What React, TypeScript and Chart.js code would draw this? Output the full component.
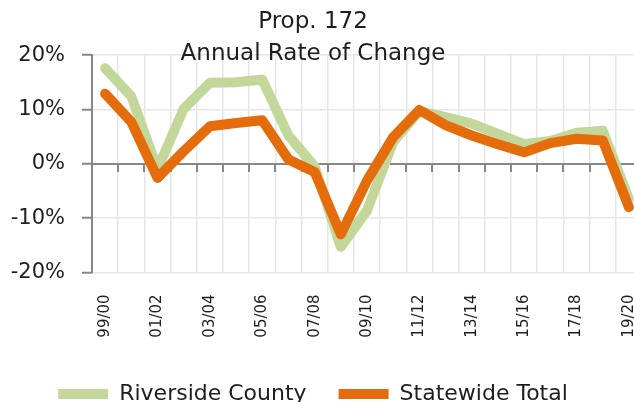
import React, { useEffect, useRef } from 'react';
import { Chart, registerables } from 'chart.js';

Chart.register(...registerables);

const categories = [
  '99/00', '00/01', '01/02', '02/03', '03/04', '04/05', '05/06', '06/07', '07/08', '08/09',
  '09/10', '10/11', '11/12', '12/13', '13/14', '14/15', '15/16', '16/17', '17/18', '18/19', '19/20',
];
const riversideCounty = [
  17.6, 12.4, -1.0, 10.1, 14.9, 15.0, 15.5, 5.2, -0.5, -15.3,
  -8.6, 4.0, 9.7, 8.6, 7.4, 5.5, 3.6, 4.2, 5.7, 6.1, -6.5,
];
const statewideTotal = [
  12.9, 7.7, -2.6, 2.3, 6.9, 7.5, 8.0, 0.8, -1.5, -13.0,
  -3.1, 4.9, 9.9, 7.1, 5.2, 3.6, 2.1, 3.8, 4.6, 4.3, -8.0,
];
const titleLines = ['Prop. 172', 'Annual Rate of Change'];
const seriesNames = ['Riverside County', 'Statewide Total'];
const yMin = -20;
const yMax = 20;
const yStep = 10;

const FONT = 'DejaVu Sans';
const TEXT = '#1e1e1e';
const GREEN = '#C4D79B';
const ORANGE = '#E46C0A';
const AXIS = '#878787';
const GRID = '#e6e6e6';

const zeroPad = (s: any) => {
  s.paddingLeft = 0;
  s.paddingRight = 0;
};

export default function App() {
  const ref = useRef<HTMLCanvasElement>(null);

  useEffect(() => {
    const chart = new Chart(ref.current as HTMLCanvasElement, {
      type: 'line',
      data: {
        labels: categories,
        datasets: [
          {
            label: seriesNames[0],
            data: riversideCounty,
            borderColor: GREEN,
            backgroundColor: GREEN,
            borderWidth: 10,
            borderCapStyle: 'round',
            borderJoinStyle: 'round',
            pointRadius: 0,
            fill: false,
            tension: 0,
            order: 2,
          },
          {
            label: seriesNames[1],
            data: statewideTotal,
            borderColor: ORANGE,
            backgroundColor: ORANGE,
            borderWidth: 10,
            borderCapStyle: 'round',
            borderJoinStyle: 'round',
            pointRadius: 0,
            fill: false,
            tension: 0,
            order: 1,
          },
        ],
      },
      options: {
        responsive: false,
        animation: false,
        devicePixelRatio: 1,
        layout: { padding: { left: 0, right: 2, top: 0, bottom: 0 } },
        plugins: {
          tooltip: { enabled: false },
          title: {
            display: true,
            text: titleLines,
            color: TEXT,
            font: { family: FONT, size: 23, weight: 'normal', lineHeight: 1.35 },
            padding: { top: 7, bottom: -14 },
          },
          legend: {
            position: 'bottom',
            align: 'center',
            labels: {
              usePointStyle: true,
              pointStyle: 'line',
              pointStyleWidth: 50,
              padding: 32,
              color: TEXT,
              font: { family: FONT, size: 22 },
              sort: (a: any, b: any) => a.datasetIndex - b.datasetIndex,
            },
          },
        },
        scales: {
          x: {
            type: 'category',
            offset: true,
            grid: { offset: true, color: GRID, lineWidth: 1.5, drawTicks: false },
            border: { display: false },
            ticks: {
              autoSkip: false,
              maxRotation: 90,
              minRotation: 90,
              padding: 22,
              color: TEXT,
              font: { family: FONT, size: 15 },
              callback: (_v: any, i: number) => (i % 2 === 0 ? categories[i] : ''),
            },
            afterFit: (s: any) => {
              s.height = 78.6;
              zeroPad(s);
            },
          },
          x2: {
            type: 'category',
            labels: categories,
            offset: true,
            position: { y: 0 } as any,
            grid: {
              offset: true,
              drawOnChartArea: false,
              drawTicks: true,
              tickLength: 7,
              tickColor: AXIS,
              tickWidth: 2,
              lineWidth: 2,
              color: AXIS,
            },
            border: { display: true, color: AXIS, width: 2 },
            ticks: { display: false },
            afterFit: zeroPad,
          },
          y: {
            min: yMin,
            max: yMax,
            grid: { color: GRID, lineWidth: 1.5, drawTicks: true, tickLength: 10, tickColor: AXIS, tickWidth: 2 },
            border: { display: true, color: AXIS, width: 2 },
            ticks: {
              stepSize: yStep,
              padding: 17,
              color: TEXT,
              font: { family: FONT, size: 21 },
              callback: (v: any) => `${v}%`,
            },
            afterFit: (s: any) => {
              s.width = 108;
            },
          },
        },
      } as any,
    });
    return () => chart.destroy();
  }, []);

  return (
    <div
      style={{
        position: 'fixed',
        left: 0,
        top: 0,
        width: 634,
        height: 402,
        overflow: 'hidden',
        background: '#fff',
      }}
    >
      <canvas ref={ref} width={660} height={415} style={{ position: 'absolute', left: -16, top: 0 }} />
    </div>
  );
}
